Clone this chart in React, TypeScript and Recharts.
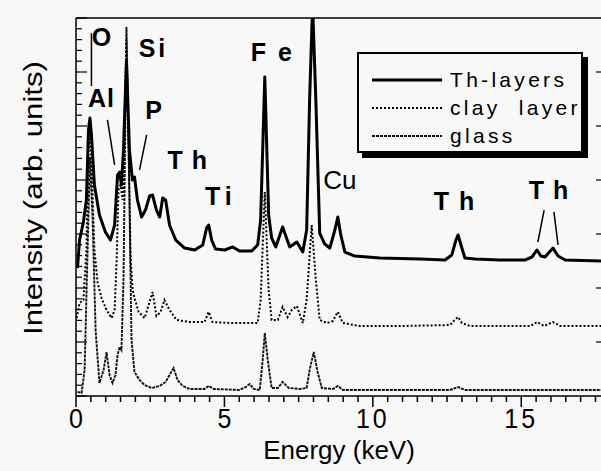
import { LineChart, Line, XAxis, YAxis, ReferenceDot, ReferenceLine, Legend } from 'recharts';

const FONT = '"Liberation Sans", Arial, Helvetica, sans-serif';

// energies in keV, intensities in arbitrary units (stacked spectra)
const thEnergy = [0.05, 0.12, 0.25, 0.35, 0.42, 0.47, 0.52, 0.62, 0.79, 0.99, 1.16, 1.3, 1.4, 1.47, 1.53, 1.6, 1.7, 1.8, 1.9, 1.97, 2.07, 2.21, 2.34, 2.48, 2.58, 2.71, 2.82, 2.92, 3.02, 3.15, 3.36, 3.66, 4.0, 4.27, 4.4, 4.47, 4.57, 4.7, 5.01, 5.28, 5.51, 5.92, 6.12, 6.22, 6.36, 6.49, 6.59, 6.73, 6.96, 7.2, 7.44, 7.64, 7.77, 7.87, 7.97, 8.08, 8.21, 8.38, 8.55, 8.72, 8.82, 8.92, 9.06, 9.39, 10.24, 11.59, 12.43, 12.66, 12.8, 12.87, 12.97, 13.1, 13.44, 14.28, 15.12, 15.36, 15.53, 15.66, 15.8, 16.07, 16.24, 16.48, 17.69];
const thIntensity = [11.85, 14.44, 16.11, 18.15, 24.63, 25.74, 24.17, 19.54, 16.76, 15.19, 14.44, 15.83, 20.46, 20.74, 19.54, 22.78, 31.11, 22.78, 20.0, 20.28, 18.15, 16.57, 17.22, 18.52, 18.61, 17.22, 16.57, 18.33, 18.15, 15.83, 14.44, 13.7, 13.52, 13.98, 15.56, 15.83, 14.44, 13.61, 13.52, 13.8, 13.43, 13.43, 13.98, 16.3, 29.54, 16.76, 14.63, 13.8, 15.65, 13.8, 14.26, 13.33, 15.37, 27.41, 36.2, 27.41, 15.09, 14.07, 13.7, 15.37, 16.57, 14.91, 13.33, 12.96, 12.78, 12.69, 12.59, 13.06, 14.44, 14.91, 13.98, 12.78, 12.69, 12.59, 12.59, 12.87, 13.52, 12.96, 12.87, 13.7, 12.96, 12.59, 12.5];

const clayEnergy = [0.02, 0.12, 0.25, 0.35, 0.42, 0.47, 0.52, 0.62, 0.73, 0.86, 1.03, 1.2, 1.3, 1.37, 1.43, 1.5, 1.57, 1.64, 1.7, 1.77, 1.84, 1.91, 1.97, 2.11, 2.31, 2.48, 2.58, 2.71, 2.85, 2.98, 3.15, 3.39, 3.83, 4.33, 4.47, 4.6, 5.18, 6.12, 6.22, 6.36, 6.49, 6.59, 6.8, 6.96, 7.13, 7.27, 7.44, 7.64, 7.77, 7.94, 8.08, 8.21, 8.45, 8.65, 8.82, 8.99, 9.56, 10.91, 12.6, 12.76, 12.87, 13.0, 13.27, 15.3, 15.53, 15.77, 16.07, 16.31, 17.69];
const clayIntensity = [7.22, 8.61, 8.89, 13.52, 22.78, 24.17, 21.85, 13.52, 10.46, 9.07, 7.96, 7.22, 7.96, 12.59, 19.07, 19.54, 18.15, 25.56, 32.96, 23.7, 12.59, 9.81, 9.07, 7.78, 7.22, 8.7, 9.63, 7.41, 7.78, 8.89, 7.96, 7.04, 6.85, 6.85, 7.78, 6.85, 6.76, 6.76, 8.89, 18.89, 9.81, 7.04, 7.04, 8.24, 7.31, 7.96, 8.33, 6.76, 8.89, 15.83, 10.74, 7.04, 6.76, 6.94, 7.78, 6.76, 6.48, 6.48, 6.57, 7.04, 7.31, 6.76, 6.48, 6.48, 6.85, 6.48, 6.85, 6.48, 6.48];

const glassEnergy = [0.05, 0.19, 0.29, 0.39, 0.47, 0.56, 0.66, 0.79, 0.93, 1.03, 1.13, 1.23, 1.33, 1.4, 1.47, 1.53, 1.6, 1.7, 1.8, 1.87, 1.97, 2.14, 2.31, 2.55, 2.82, 3.02, 3.15, 3.29, 3.42, 3.59, 3.83, 4.33, 4.47, 4.64, 5.51, 5.72, 5.85, 5.99, 6.19, 6.29, 6.36, 6.46, 6.59, 6.8, 6.96, 7.17, 7.54, 7.77, 7.87, 8.01, 8.14, 8.28, 8.65, 8.82, 8.99, 12.6, 12.87, 13.1, 17.69];
const glassIntensity = [0.37, 0.28, 2.41, 13.52, 22.13, 16.3, 6.11, 1.2, 2.41, 4.07, 1.94, 1.2, 1.94, 3.8, 4.54, 4.26, 10.74, 34.17, 18.15, 5.19, 2.22, 1.48, 1.02, 0.74, 0.93, 1.3, 1.94, 2.59, 1.48, 0.93, 0.65, 0.65, 0.93, 0.65, 0.56, 0.83, 1.11, 0.65, 0.56, 3.33, 5.83, 3.33, 0.74, 0.74, 1.3, 0.74, 0.65, 0.74, 2.41, 4.07, 2.22, 0.74, 0.65, 0.93, 0.56, 0.56, 0.83, 0.56, 0.56];

const seriesNames = ['Th-layers', 'clay  layer', 'glass'];

const xTicks = Array.from({ length: 36 }, (_, i) => i * 0.5);
const yTicks = Array.from({ length: 36 }, (_, i) => i);
const yRightTicks = [5, 10, 15, 20, 25, 30];

// peak annotations: text, energy, intensity (label centre), bold
const peakText = ['O', 'Si', 'Al', 'P', 'Th', 'Ti', 'Fe', 'Cu', 'Th', 'Th'];
const peakEnergy = [0.86, 2.61, 0.86, 2.61, 3.9, 4.88, 6.78, 8.89, 12.9, 16.07];
const peakLevel = [33.24, 32.22, 27.59, 26.48, 21.85, 18.52, 31.85, 20.0, 18.06, 19.07];
const peakBold = [true, true, true, true, true, true, true, false, true, true];
const peakSpacing = [0, 3, 1, 0, 9, 5, 12, 0, 10, 9];

// pointer lines [e1, y1, e2, y2]
const pointers = [
  [0.52, 33.6, 0.52, 28.7],
  [1.06, 25.56, 1.3, 21.39],
  [2.38, 24.17, 2.14, 20.93],
  [15.77, 17.22, 15.56, 14.26],
  [16.1, 17.04, 16.24, 13.98],
];

const toRows = (e: number[], v: number[]) => e.map((x, i) => ({ e: x, v: v[i] }));
const thData = toRows(thEnergy, thIntensity);
const clayData = toRows(clayEnergy, clayIntensity);
const glassData = toRows(glassEnergy, glassIntensity);

const styles = [
  { stroke: '#000', strokeWidth: 3, dash: undefined as string | undefined },
  { stroke: '#000', strokeWidth: 2, dash: '2 2' },
  { stroke: '#111', strokeWidth: 1.9, dash: '3 1' },
];

const isMajor = (v: number) => Math.abs(v % 5) < 1e-6;

const BottomTick = (props: any) => {
  const { x, y, payload } = props;
  const major = isMajor(payload.value);
  return (
    <g>
      <line x1={x} y1={y} x2={x} y2={y + (major ? 11 : 6)} stroke="#000" strokeWidth={1.5} />
      {major && (
        <text transform={`translate(${x},${y + 32}) scale(1,1.12)`} textAnchor="middle" fontSize={25} fontFamily={FONT} fill="#000"
          letterSpacing={payload.value >= 10 ? 3 : 0}>
          {payload.value}
        </text>
      )}
    </g>
  );
};

const TopTick = (props: any) => {
  const { x, y, payload } = props;
  const major = isMajor(payload.value);
  return <line x1={x} y1={y} x2={x} y2={y - (major ? 11 : 5)} stroke="#000" strokeWidth={1.2} />;
};

const LeftTick = (props: any) => {
  const { x, y, payload } = props;
  const major = isMajor(payload.value);
  return <line x1={x} y1={y} x2={x + (major ? 11 : 6)} y2={y} stroke="#000" strokeWidth={1.2} />;
};

const RightTick = (props: any) => {
  const { x, y } = props;
  return <line x1={x} y1={y} x2={x - 6} y2={y} stroke="#000" strokeWidth={1.2} />;
};

const LegendBox = () => (
  <div
    style={{
      width: 226,
      height: 101,
      border: '2px solid #000',
      boxShadow: '5px 5px 0 #000',
      background: '#f8f8f8',
      boxSizing: 'border-box',
      paddingTop: 12,
      fontFamily: FONT,
    }}
  >
    {seriesNames.map((n, i) => (
      <div key={n} style={{ display: 'flex', alignItems: 'center', height: 28 }}>
        <svg width={86} height={10} style={{ marginLeft: 13 }}>
          <line x1={0} y1={5} x2={70} y2={5} stroke={styles[i].stroke} strokeWidth={styles[i].strokeWidth} strokeDasharray={styles[i].dash} />
        </svg>
        <span style={{ fontSize: 21, letterSpacing: 3.3, whiteSpace: 'pre', color: '#000', marginLeft: -8 }}>{n}</span>
      </div>
    ))}
  </div>
);

export default function App() {
  const axisStroke = { stroke: '#000', strokeWidth: 1.5 };
  return (
    <div style={{ position: 'fixed', left: 0, top: 0, width: 601, height: 471, overflow: 'hidden', background: '#f8f8f8' }}>
      <LineChart width={640} height={471} margin={{ top: 17, right: 37, bottom: 74, left: 75 }}>
        <XAxis xAxisId={0} type="number" dataKey="e" domain={[0, 17.72]} allowDataOverflow ticks={xTicks} interval={0}
          height={1} tickSize={0} tickMargin={0} axisLine={axisStroke} tickLine={false} tick={<BottomTick />}
          label={{ value: 'Energy (keV)', position: 'bottom', offset: 44, fontSize: 26, fill: '#000', fontFamily: FONT }} />
        <XAxis xAxisId="top" orientation="top" type="number" domain={[0, 17.72]} allowDataOverflow ticks={xTicks} interval={0}
          height={1} tickSize={0} tickMargin={0} axisLine={axisStroke} tickLine={false} tick={<TopTick />} />
        <YAxis yAxisId={0} type="number" domain={[0, 35]} allowDataOverflow ticks={yTicks} interval={0}
          width={1} tickSize={0} tickMargin={0} axisLine={axisStroke} tickLine={false} tick={<LeftTick />} />
        <YAxis yAxisId="yr" orientation="right" type="number" domain={[0, 35]} allowDataOverflow ticks={yRightTicks} interval={0}
          width={1} tickSize={0} tickMargin={0} axisLine={false} tickLine={false} tick={<RightTick />} />

        <Line data={glassData} dataKey="v" name={seriesNames[2]} type="linear" dot={false} isAnimationActive={false}
          stroke={styles[2].stroke} strokeWidth={styles[2].strokeWidth} strokeDasharray={styles[2].dash} />
        <Line data={clayData} dataKey="v" name={seriesNames[1]} type="linear" dot={false} isAnimationActive={false}
          stroke={styles[1].stroke} strokeWidth={styles[1].strokeWidth} strokeDasharray={styles[1].dash} />
        <Line data={thData} dataKey="v" name={seriesNames[0]} type="linear" dot={false} isAnimationActive={false}
          stroke={styles[0].stroke} strokeWidth={styles[0].strokeWidth} strokeLinejoin="round" />

        {pointers.map((p, i) => (
          <ReferenceLine key={'p' + i} segment={[{ x: p[0], y: p[1] }, { x: p[2], y: p[3] }]} stroke="#000" strokeWidth={1.5} ifOverflow="visible" />
        ))}
        {peakText.map((t, i) => (
          <ReferenceDot key={'t' + i} x={peakEnergy[i]} y={peakLevel[i]} r={0} fill="none" stroke="none" ifOverflow="visible"
            label={{ value: t, position: 'center', fontSize: peakBold[i] ? 25 : 26, fontWeight: peakBold[i] ? 'bold' : 'normal',
              fill: '#000', fontFamily: FONT, letterSpacing: peakSpacing[i] }} />
        ))}

        <Legend layout="horizontal" align="center" verticalAlign="middle" content={() => <LegendBox />}
          wrapperStyle={{ left: 357, top: 52, width: 232, height: 106 }} />
      </LineChart>
      <div style={{ position: 'absolute', left: 33, top: 198, transform: 'translate(-50%, -50%) rotate(-90deg) scale(1.2, 1)',
        whiteSpace: 'nowrap', fontFamily: FONT, fontSize: 26, color: '#000' }}>
        Intensity (arb. units)
      </div>
    </div>
  );
}
